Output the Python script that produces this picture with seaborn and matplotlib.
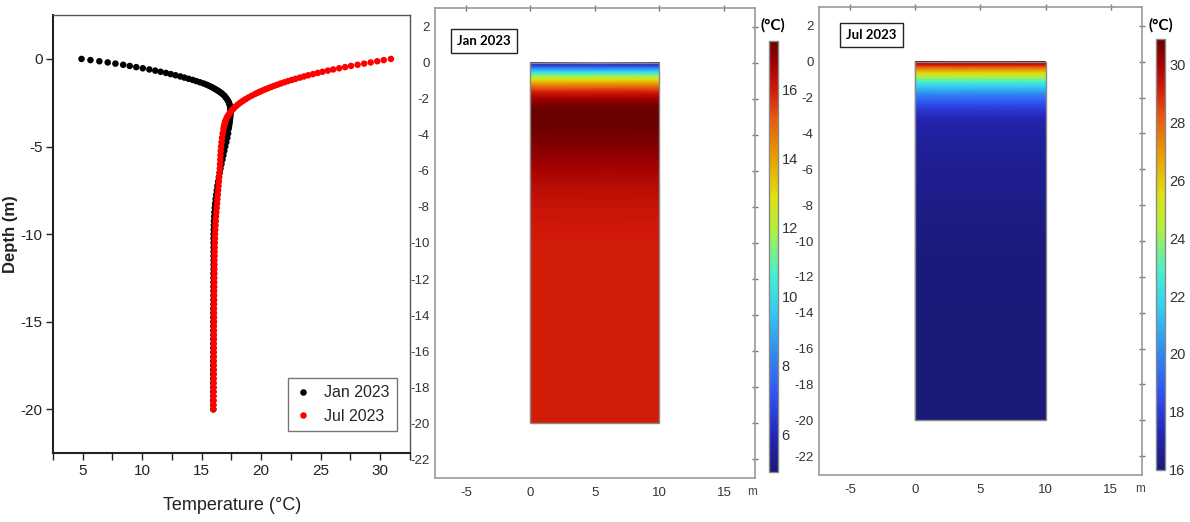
import numpy as np
import pandas as pd
import matplotlib
matplotlib.use("Agg")
import matplotlib.pyplot as plt
import seaborn as sns
from matplotlib.colors import LinearSegmentedColormap
from matplotlib.patches import Rectangle

# ---------------- data ----------------
depth = [0.0, -0.067, -0.133, -0.2, -0.267, -0.333, -0.4, -0.467, -0.533, -0.6,
         -0.667, -0.733, -0.8, -0.867, -0.933, -1.0, -1.067, -1.133, -1.2, -1.267,
         -1.333, -1.4, -1.467, -1.533, -1.6, -1.667, -1.733, -1.8, -1.867, -1.933, -2.0,
         -2.1, -2.2, -2.3, -2.4, -2.5, -2.6, -2.7, -2.8, -2.9, -3.0,
         -3.1, -3.2, -3.3, -3.4, -3.5, -3.6, -3.7, -3.8, -3.9, -4.0,
         -4.25, -4.5, -4.75, -5.0, -5.25, -5.5, -5.75, -6.0, -6.25, -6.5, -6.75, -7.0,
         -7.25, -7.5, -7.75, -8.0, -8.25, -8.5, -8.75, -9.0, -9.25, -9.5, -9.75, -10.0,
         -10.25, -10.5, -10.75, -11.0, -11.25, -11.5, -11.75, -12.0,
         -12.25, -12.5, -12.75, -13.0, -13.25, -13.5, -13.75, -14.0,
         -14.25, -14.5, -14.75, -15.0, -15.25, -15.5, -15.75, -16.0, -16.25, -16.5, -16.75, -17.0,
         -17.25, -17.5, -17.75, -18.0, -18.25, -18.5, -18.75, -19.0, -19.25, -19.5, -19.75, -20.0]

temp_jan = [4.90, 5.65, 6.40, 7.10, 7.75, 8.40, 8.95, 9.50, 10.05, 10.60,
            11.10, 11.55, 12.00, 12.40, 12.80, 13.20, 13.55, 13.90, 14.25, 14.55,
            14.85, 15.15, 15.40, 15.62, 15.82, 16.00, 16.17, 16.33, 16.48, 16.62, 16.74,
            16.90, 17.02, 17.13, 17.22, 17.29, 17.34, 17.38, 17.40, 17.42, 17.42,
            17.42, 17.41, 17.40, 17.38, 17.36, 17.34, 17.32, 17.30, 17.28, 17.25,
            17.22, 17.15, 17.07, 16.98, 16.90, 16.82, 16.74, 16.66, 16.58, 16.51, 16.44, 16.38,
            16.32, 16.27, 16.22, 16.17, 16.13, 16.10, 16.07, 16.05, 16.03, 16.02, 16.01, 16.00,
            16.00, 16.00, 16.00, 16.00, 16.00, 16.00, 16.00, 16.00,
            15.99, 15.99, 15.99, 15.99, 15.99, 15.99, 15.99, 15.99,
            15.98, 15.98, 15.98, 15.98, 15.98, 15.98, 15.98, 15.98, 15.98, 15.98, 15.98, 15.98,
            15.97, 15.97, 15.97, 15.97, 15.97, 15.97, 15.97, 15.97, 15.97, 15.97, 15.97, 15.97]

temp_jul = [30.90, 30.30, 29.75, 29.20, 28.65, 28.10, 27.55, 27.05, 26.55, 26.05,
            25.60, 25.15, 24.75, 24.35, 23.95, 23.60, 23.25, 22.90, 22.57, 22.25,
            21.95, 21.65, 21.37, 21.10, 20.84, 20.59, 20.35, 20.12, 19.90, 19.69, 19.48,
            19.20, 18.93, 18.68, 18.45, 18.24, 18.05, 17.88, 17.72, 17.58, 17.45,
            17.34, 17.24, 17.15, 17.08, 17.02, 16.97, 16.93, 16.89, 16.86, 16.83,
            16.76, 16.71, 16.67, 16.63, 16.60, 16.58, 16.56, 16.54, 16.52, 16.50, 16.47, 16.44,
            16.41, 16.38, 16.35, 16.32, 16.29, 16.26, 16.23, 16.20, 16.18, 16.16, 16.14, 16.12,
            16.11, 16.10, 16.09, 16.08, 16.08, 16.07, 16.07, 16.06,
            16.06, 16.05, 16.05, 16.05, 16.04, 16.04, 16.04, 16.03,
            16.03, 16.03, 16.03, 16.03, 16.02, 16.02, 16.02, 16.02, 16.01, 16.01, 16.01, 16.01,
            16.01, 16.01, 16.01, 16.01, 16.00, 16.00, 16.00, 16.00, 15.99, 15.99, 15.98, 15.98]

series_labels = ["Jan 2023", "Jul 2023"]
series_colors = ["black", "red"]
domain_x = [0, 10]

left_xticks = [5, 10, 15, 20, 25, 30]
left_yticks = [0, -5, -10, -15, -20]
map_xticks = [-5, 0, 5, 10, 15]
map_yticks = [2, 0, -2, -4, -6, -8, -10, -12, -14, -16, -18, -20, -22]
cbar_ticks_jan = [6, 8, 10, 12, 14, 16]
cbar_ticks_jul = [16, 18, 20, 22, 24, 26, 28, 30]

# ---------------- style ----------------
sns.set_theme(style="white")
plt.rcParams["font.family"] = ["Liberation Sans", "DejaVu Sans"]
plt.rcParams["axes.unicode_minus"] = False

comsol = LinearSegmentedColormap.from_list("comsol_rainbow", [
    (0.00, "#1a1a78"), (0.08, "#2424b4"), (0.17, "#2f4ff0"), (0.27, "#3088f0"),
    (0.38, "#35d0f0"), (0.46, "#45f0d0"), (0.56, "#b0f040"), (0.64, "#e0e010"),
    (0.73, "#e8a000"), (0.82, "#e85a10"), (0.89, "#d01808"), (0.95, "#a00000"),
    (1.00, "#6a0000")])

fig = plt.figure(figsize=(11.9, 5.22), dpi=100)

# ---------------- left: profiles ----------------
ax = fig.add_axes([0.0445, 0.132, 0.300, 0.839])
df = pd.concat([
    pd.DataFrame({"Temperature": temp_jan, "Depth": depth, "Series": series_labels[0]}),
    pd.DataFrame({"Temperature": temp_jul, "Depth": depth, "Series": series_labels[1]}),
])
sns.scatterplot(data=df, x="Temperature", y="Depth", hue="Series",
                palette=dict(zip(series_labels, series_colors)),
                s=22, linewidth=0, edgecolor="none", ax=ax, legend=True)
ax.set_xlim(2.5, 32.5)
ax.set_ylim(-22.5, 2.5)
ax.set_xticks(left_xticks)
ax.set_xticks([2.5 + 5 * i for i in range(7)], minor=True)
ax.set_yticks(left_yticks)
ax.tick_params(axis="both", which="both", direction="out", length=5, width=1,
               color="#222", labelsize=11, labelcolor="#222", bottom=True, left=True,
               pad=2.5)
ax.tick_params(axis="y", which="both", left=True, right=False)
for side in ["left", "bottom"]:
    ax.spines[side].set_color("#222")
    ax.spines[side].set_linewidth(1.5)
for side in ["top", "right"]:
    ax.spines[side].set_color("#555")
    ax.spines[side].set_linewidth(1.0)
ax.set_xlabel("Temperature (°C)", fontsize=13, color="#222")
ax.xaxis.set_label_coords(0.502, -0.1)
ax.set_ylabel("Depth (m)", fontsize=12, fontweight="bold", color="#222")
ax.yaxis.set_label_coords(-0.097, 0.5)
leg = ax.legend(loc="lower right", bbox_to_anchor=(0.985, 0.032), frameon=True,
                fancybox=False, edgecolor="#555", fontsize=11.5, markerscale=1.0,
                handletextpad=0.8, handlelength=1.0, borderpad=0.45, labelspacing=0.55)
leg.get_frame().set_linewidth(1.0)


# ---------------- maps ----------------
def draw_map(rect, cax_rect, temps, ticks, label, label_pos, unit_x, title_x):
    axm = fig.add_axes(rect)
    d = np.asarray(depth)
    t = np.asarray(temps)
    X = np.column_stack([np.full_like(d, domain_x[0]), np.full_like(d, domain_x[1])])
    Y = np.column_stack([d, d])
    C = np.column_stack([t, t])
    mesh = axm.pcolormesh(X, Y, C, shading="gouraud", cmap=comsol,
                          vmin=t.min(), vmax=t.max(), rasterized=True)
    axm.add_patch(Rectangle((domain_x[0], d.min()), domain_x[1] - domain_x[0],
                            d.max() - d.min(), fill=False, edgecolor="#888", lw=1.0))
    axm.set_xlim(-7.4, 17.4)
    axm.set_ylim(-23.05, 3.05)
    axm.set_xticks(map_xticks)
    axm.set_yticks(map_yticks)
    axm.tick_params(axis="both", direction="inout", length=5, width=1, color="#777",
                    labelsize=9.5, labelcolor="#333", top=True, right=True,
                    labeltop=False, labelright=False, pad=1.5)
    axm.tick_params(axis="x", pad=4)
    for s in axm.spines.values():
        s.set_color("#999")
        s.set_linewidth(1.2)
    axm.grid(False)
    axm.text(label_pos[0], label_pos[1], label, transform=axm.transAxes,
             ha="center", va="center", fontsize=9.5, fontweight="bold", color="black",
             family=["Lato", "DejaVu Sans"],
             bbox=dict(boxstyle="square,pad=0.45", fc="white", ec="#222", lw=1.0))
    axm.text(unit_x, -0.03, "m", transform=axm.transAxes, ha="center", va="center",
             fontsize=8.5, color="#444")
    cax = fig.add_axes(cax_rect)
    cb = fig.colorbar(mesh, cax=cax, ticks=ticks)
    cb.outline.set_edgecolor("#888")
    cb.outline.set_linewidth(1.0)
    cax.tick_params(direction="in", length=3, width=1.2, color="#333",
                    labelsize=10.5, labelcolor="#333", pad=3)
    fig.text(title_x, 1 - 25 / 522, "(°C)", ha="center", va="center", fontsize=11,
             fontweight="bold", color="black", family=["Lato", "DejaVu Sans"])
    return axm


draw_map([0.3655, 0.0843, 0.2689, 0.9004], [0.6462, 0.0958, 0.0072, 0.8257],
         temp_jan, cbar_ticks_jan, series_labels[0], (0.153, 0.929), 0.99, 773 / 1190)
draw_map([0.6882, 0.0900, 0.2714, 0.8966], [0.9714, 0.0996, 0.0076, 0.8257],
         temp_jul, cbar_ticks_jul, series_labels[1], (0.1625, 0.940), 0.994, 1161 / 1190)

fig.savefig("out.png", dpi=100, facecolor="white")
